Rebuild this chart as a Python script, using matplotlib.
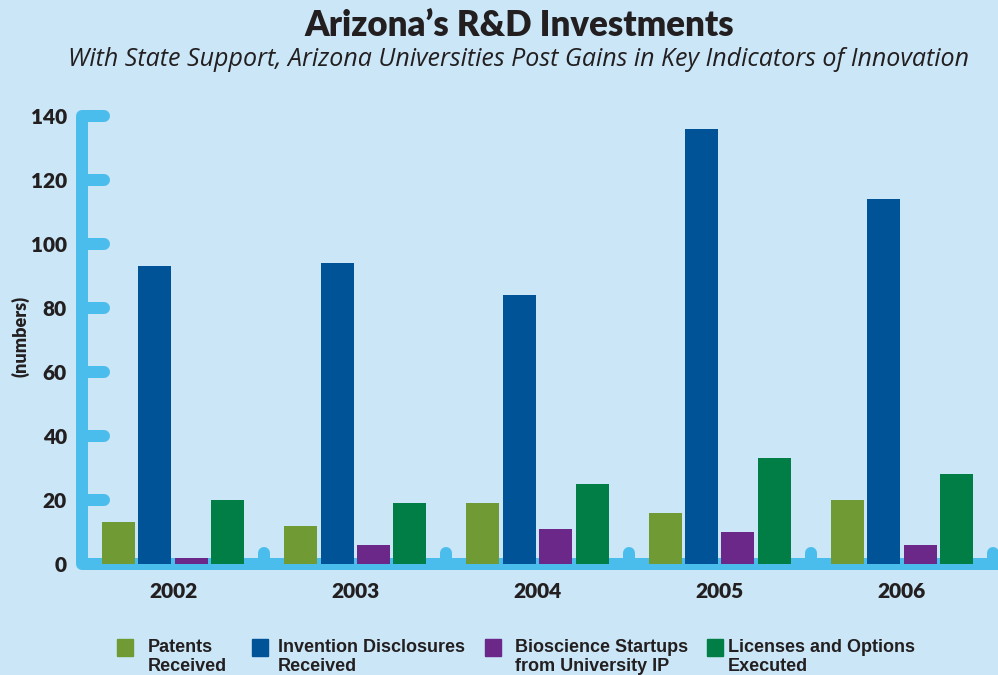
import matplotlib
matplotlib.use("Agg")
import matplotlib.pyplot as plt
from matplotlib.patches import Rectangle
import numpy as np

years = ["2002", "2003", "2004", "2005", "2006"]
patents = [13, 12, 19, 16, 20]
invention = [93, 94, 84, 136, 114]
bioscience = [2, 6, 11, 10, 6]
licenses = [20, 19, 25, 33, 28]

series_labels = ["Patents\nReceived", "Invention Disclosures\nReceived",
                 "Bioscience Startups\nfrom University IP", "Licenses and Options\nExecuted"]
colors = ["#709A34", "#005396", "#6C2888", "#007E45"]
yticks = [0, 20, 40, 60, 80, 100, 120, 140]

BG = "#CAE6F7"
AX = "#4ABDED"
TXT = "#231F20"

W, H = 998, 675
fig = plt.figure(figsize=(W / 100, H / 100), dpi=100, facecolor=BG)
ax = fig.add_axes([82 / W, (H - 564) / H, (998 - 82) / W, 448 / H])
ax.set_facecolor(BG)
ax.set_xlim(-0.5, 4.527)
ax.set_ylim(0, 140)
for s in ax.spines.values():
    s.set_visible(False)

x = np.arange(len(years))
offsets = [-0.3, -0.1, 0.1, 0.3]
width = 0.181
for vals, off, c in zip([patents, invention, bioscience, licenses], offsets, colors):
    ax.bar(x + off, vals, width=width, color=c, zorder=3, linewidth=0)

lw = 12 * 72 / 100
ax.plot([-0.5 + 0.121, -0.5, -0.5, 4.7], [140, 140, 0, 0], color=AX, lw=lw,
        solid_capstyle="round", solid_joinstyle="round", clip_on=False, zorder=2)
for v in yticks[1:-1]:
    ax.plot([-0.5, -0.5 + 0.121], [v, v], color=AX, lw=lw, solid_capstyle="round",
            clip_on=False, zorder=2)
for b in np.arange(0.5, 5.0, 1.0):
    ax.plot([b, b], [0, 3.4], color=AX, lw=lw, solid_capstyle="round",
            clip_on=False, zorder=2)

ax.set_yticks(yticks)
ax.set_yticklabels([str(v) for v in yticks], fontfamily="Lato", fontweight="heavy",
                   fontsize=15, color=TXT)
ax.tick_params(axis="y", length=0, pad=11)
ax.set_xticks(x)
ax.set_xticklabels(years, fontfamily="Lato", fontweight="heavy", fontsize=15, color=TXT)
ax.tick_params(axis="x", length=0, pad=13)

fig.text(20 / W, 1 - 336 / H, "(numbers)", rotation=90, ha="center", va="center",
         fontfamily="Lato", fontweight="heavy", fontsize=13, color=TXT)

fig.text(519 / W, 1 - 26 / H, "Arizona\u2019s R&D Investments", ha="center", va="center",
         fontfamily="Lato", fontweight="heavy", fontsize=25, color=TXT)
fig.text(519 / W, 1 - 59 / H,
         "With State Support, Arizona Universities Post Gains in Key Indicators of Innovation",
         ha="center", va="center", fontfamily="Open Sans", style="italic", fontsize=18,
         color=TXT)

sq_x = [117, 252, 485, 707]
tx_x = [148, 278, 515, 728]
for sx, tx, lab, c in zip(sq_x, tx_x, series_labels, colors):
    fig.patches.append(Rectangle((sx / W, 1 - 656 / H), 16 / W, 17 / H, color=c,
                                 transform=fig.transFigure, figure=fig))
    fig.text(tx / W, 1 - 657 / H, lab, ha="left", va="center",
             fontfamily=["Liberation Sans Narrow", "Liberation Sans"], fontweight="bold",
             fontsize=13, color=TXT, linespacing=1.2)

fig.savefig("out.png", dpi=100, facecolor=BG)
